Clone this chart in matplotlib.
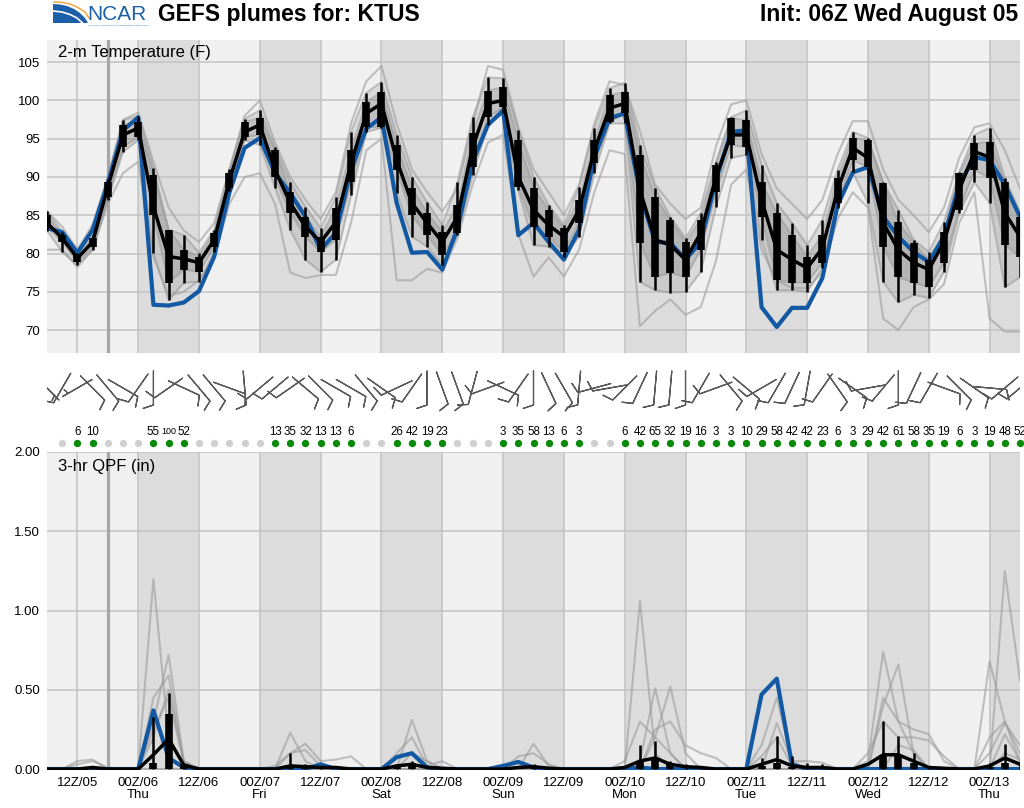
import numpy as np
import matplotlib
matplotlib.use("Agg")
import matplotlib.pyplot as plt
from matplotlib.patches import Polygon

plt.rcParams['font.family'] = ['Liberation Sans', 'DejaVu Sans']

# forecast hours from 06Z Wed Aug 05, every 3 h
hours = np.arange(0, 193, 3)

# ---- 2-m temperature (F) ----
temp_ctrl = [83.3, 82.8, 80.1, 83.1, 89.2, 96.1, 97.8, 73.3, 73.2, 73.6, 75.1, 79.6, 88.0,
             93.8, 95.1, 90.5, 87.9, 84.8, 80.5, 82.7, 90.9, 96.3, 97.8, 86.6, 80.1, 80.2,
             77.9, 83.3, 92.0, 96.8, 98.7, 82.4, 84.0, 81.5, 79.2, 83.1, 92.6, 97.7, 98.3,
             87.9, 81.5, 81.4, 79.2, 81.5, 89.6, 95.9, 96.1, 73.0, 70.4, 72.9, 72.9, 76.8,
             86.3, 90.6, 91.3, 84.8, 82.2, 80.2, 78.9, 82.2, 89.0, 92.6, 92.2, 89.0, 84.8]
temp_mean = [84.0, 82.0, 79.4, 81.5, 88.7, 95.5, 96.4, 86.1, 79.6, 79.3, 78.8, 81.8, 89.6,
             95.9, 96.8, 90.9, 86.6, 83.5, 81.5, 84.1, 91.8, 98.3, 99.6, 92.2, 86.6, 84.0,
             81.5, 84.8, 93.9, 99.6, 100.0, 90.0, 85.7, 83.7, 82.2, 85.7, 93.5, 99.0, 99.6,
             88.3, 81.8, 81.1, 79.2, 82.7, 90.0, 95.5, 95.5, 87.0, 80.5, 79.2, 78.1, 80.7,
             88.3, 93.8, 92.5, 84.0, 80.5, 78.8, 77.9, 81.5, 88.3, 93.3, 92.6, 85.3, 82.2]
temp_box_hi = [85.0, 82.4, 79.8, 82.0, 89.3, 96.8, 97.2, 90.3, 83.1, 80.5, 79.6, 82.7, 90.5,
               97.2, 97.7, 93.5, 88.0, 84.8, 82.2, 86.0, 93.5, 99.8, 101.1, 94.2, 88.6, 85.3,
               82.8, 86.3, 95.7, 101.3, 101.7, 94.8, 88.6, 85.7, 83.3, 87.0, 94.8, 100.7, 101.1,
               92.9, 87.4, 84.4, 81.5, 84.4, 91.6, 97.7, 97.4, 89.3, 85.3, 82.4, 79.6, 82.4,
               89.9, 95.1, 94.8, 89.2, 84.1, 81.4, 79.2, 82.8, 90.5, 94.4, 94.6, 89.3, 84.8]
temp_box_lo = [83.5, 81.5, 78.9, 80.9, 87.4, 93.9, 95.2, 85.0, 76.2, 77.9, 77.6, 80.9, 88.6,
               95.2, 95.5, 90.0, 85.3, 82.2, 80.2, 81.8, 89.3, 96.5, 96.5, 90.9, 85.0, 82.4,
               79.8, 82.7, 91.3, 97.8, 99.1, 88.7, 83.5, 82.2, 80.2, 84.0, 91.8, 97.2, 98.3,
               81.4, 76.9, 77.5, 76.9, 80.5, 88.0, 94.2, 93.9, 84.8, 76.5, 76.2, 76.2, 78.8,
               86.6, 92.2, 91.3, 80.9, 76.9, 76.2, 75.6, 78.8, 85.7, 90.9, 89.9, 81.1, 79.6]
temp_wh_hi = [85.5, 82.8, 80.1, 82.4, 89.8, 97.4, 98.0, 91.2, 83.1, 82.4, 80.1, 83.1, 91.0,
              97.6, 98.7, 93.9, 89.3, 86.1, 83.3, 87.4, 95.9, 101.0, 102.4, 95.5, 90.0, 86.7,
              83.7, 89.3, 97.8, 103.0, 102.9, 96.1, 90.0, 86.3, 83.7, 88.7, 96.4, 101.6, 102.3,
              94.2, 88.6, 84.8, 82.0, 85.3, 92.0, 97.8, 98.7, 91.6, 86.6, 84.0, 81.1, 84.4,
              90.9, 95.9, 95.1, 89.3, 85.7, 81.8, 80.2, 84.1, 90.6, 95.5, 96.4, 89.9, 85.4]
temp_wh_lo = [83.0, 80.2, 78.5, 80.5, 87.0, 93.3, 94.8, 80.1, 73.9, 76.2, 76.3, 80.2, 88.2,
              94.8, 94.2, 88.6, 83.1, 79.2, 77.6, 79.2, 87.6, 95.9, 96.4, 87.9, 82.2, 80.9,
              78.5, 82.4, 90.3, 96.8, 98.3, 88.3, 81.1, 80.9, 79.6, 82.2, 90.5, 97.0, 97.0,
              76.3, 75.2, 74.9, 75.0, 77.6, 86.1, 92.5, 92.9, 81.8, 75.2, 75.2, 75.0, 78.1,
              86.0, 90.6, 86.6, 76.3, 73.6, 74.6, 74.2, 77.6, 85.3, 89.3, 86.6, 75.6, 76.9]
temp_mem_max = [85.5, 83.5, 80.5, 83.8, 90.0, 97.5, 98.4, 92.0, 86.0, 83.0, 81.5, 84.0, 91.0,
                98.0, 100.0, 94.5, 90.0, 87.0, 84.5, 88.0, 97.0, 102.5, 104.5, 97.0, 91.0, 88.0,
                85.5, 88.5, 97.0, 104.5, 104.0, 96.5, 91.0, 88.0, 85.0, 89.0, 97.0, 102.5, 102.0,
                96.0, 89.0, 86.5, 84.5, 86.0, 94.0, 99.5, 100.0, 93.0, 88.5, 86.5, 84.5, 87.0,
                93.0, 97.3, 97.3, 91.0, 87.0, 85.0, 82.8, 86.0, 92.5, 96.5, 97.0, 93.5, 88.5]
temp_mem_min = [80.5, 80.5, 78.2, 80.5, 86.5, 90.5, 92.0, 79.5, 74.5, 75.0, 76.5, 79.5, 86.5,
                90.0, 90.5, 86.5, 77.5, 76.8, 77.2, 77.2, 84.0, 93.5, 95.0, 76.5, 76.5, 78.0,
                77.5, 82.0, 89.0, 94.5, 95.5, 82.5, 77.0, 79.5, 77.0, 80.5, 88.0, 93.5, 93.0,
                70.5, 72.5, 74.0, 72.0, 73.0, 79.0, 89.0, 91.0, 80.5, 76.5, 75.5, 75.5, 77.5,
                84.5, 88.0, 86.0, 71.5, 70.0, 73.0, 74.0, 76.0, 84.0, 88.0, 71.5, 69.8, 69.8]

# ---- winds (direction from, deg; speed, kt) ----
wind_dir = [135, 210, 240, 135, 140, 120, 215, 180, 235, 115, 140, 140, 110,
            175, 230, 230, 235, 130, 135, 120, 120, 140, 125, 245, 215, 180,
            160, 160, 195, 250, 115, 215, 180, 155, 150, 185, 255, 260, 225,
            205, 185, 185, 180, 210, 250, 140, 130, 240, 210, 205, 190, 215,
            145, 125, 260, 220, 180, 205, 210, 110, 135, 125, 95, 230, 230]
wind_spd = [5, 8, 5, 10, 10, 12, 10, 8, 10, 12, 10, 10, 12,
            8, 10, 10, 8, 10, 10, 12, 10, 10, 12, 12, 10, 8,
            8, 8, 8, 12, 12, 10, 8, 8, 8, 8, 12, 12, 10,
            10, 8, 8, 8, 10, 12, 10, 12, 12, 10, 10, 8, 10,
            10, 12, 12, 10, 8, 10, 10, 12, 12, 12, 12, 10, 10]

# ---- probability of measurable precip (%) ----
pop = [None, 0, 6, 10, 0, 0, 0, 55, 100, 52, 0, 0, 0,
       0, 0, 13, 35, 32, 13, 13, 6, 0, 0, 26, 42, 19,
       23, 0, 0, 0, 3, 35, 58, 13, 6, 3, 0, 0, 6,
       42, 65, 32, 19, 16, 3, 3, 10, 29, 58, 42, 42, 23,
       6, 3, 29, 42, 61, 58, 35, 19, 6, 3, 19, 48, 52]

# ---- 3-hr QPF (in) ----
qpf_ctrl = [0, 0, 0, 0, 0, 0, 0, 0.37, 0.07, 0.01, 0, 0, 0,
            0, 0, 0, 0, 0, 0.03, 0, 0, 0, 0, 0.075, 0.10, 0.01,
            0, 0, 0, 0, 0.02, 0.045, 0.01, 0, 0, 0, 0, 0, 0,
            0.01, 0, 0, 0, 0, 0, 0, 0, 0.47, 0.57, 0.03, 0, 0,
            0, 0, 0, 0, 0, 0, 0, 0, 0, 0, 0, 0, 0]
qpf_mean = [0, 0, 0, 0.01, 0, 0, 0, 0.09, 0.19, 0.025, 0, 0, 0,
            0, 0, 0, 0.02, 0.015, 0.01, 0.01, 0, 0, 0, 0.02, 0.03, 0.01,
            0.005, 0, 0, 0, 0, 0.01, 0.015, 0.005, 0, 0, 0, 0, 0.01,
            0.05, 0.07, 0.03, 0.015, 0.01, 0, 0, 0, 0.03, 0.06, 0.02, 0.01, 0.01,
            0, 0, 0.03, 0.09, 0.09, 0.05, 0.01, 0.005, 0, 0, 0.02, 0.07, 0.03]
qpf_box_hi = [0, 0, 0, 0.01, 0, 0, 0, 0.04, 0.35, 0.03, 0, 0, 0,
              0, 0, 0, 0.02, 0.02, 0, 0, 0, 0, 0, 0.02, 0.04, 0,
              0, 0, 0, 0, 0, 0, 0.02, 0, 0, 0, 0, 0, 0,
              0.05, 0.06, 0.03, 0, 0, 0, 0, 0, 0.02, 0.04, 0.01, 0, 0,
              0, 0, 0, 0.08, 0.08, 0.04, 0, 0, 0, 0, 0.01, 0.04, 0]
qpf_wh_hi = [0, 0, 0, 0.01, 0, 0, 0, 0.33, 0.48, 0.03, 0, 0, 0,
             0, 0, 0, 0.10, 0.03, 0.02, 0, 0, 0, 0, 0.03, 0.05, 0,
             0, 0, 0, 0, 0, 0, 0.03, 0, 0, 0, 0, 0, 0,
             0.15, 0.18, 0.05, 0.03, 0.02, 0, 0, 0, 0.07, 0.21, 0.08, 0.04, 0.03,
             0, 0, 0, 0.30, 0.21, 0.10, 0.02, 0, 0, 0, 0.04, 0.16, 0.03]
qpf_members = [
    [0, 0, 0, 0, 0, 0, 0, 1.20, 0.20, 0.02, 0, 0, 0,
     0, 0, 0, 0, 0, 0, 0, 0, 0, 0, 0, 0, 0,
     0, 0, 0, 0, 0, 0, 0, 0, 0, 0, 0, 0, 0,
     1.06, 0.10, 0, 0, 0, 0, 0, 0, 0, 0, 0, 0, 0,
     0, 0, 0, 0, 0, 0, 0, 0, 0, 0, 0, 1.25, 0.56],
    [0, 0, 0, 0, 0, 0, 0, 0.30, 0.72, 0.05, 0, 0, 0,
     0, 0, 0, 0, 0, 0, 0, 0, 0, 0, 0, 0, 0,
     0, 0, 0, 0, 0, 0, 0, 0, 0, 0, 0, 0, 0,
     0.05, 0.51, 0.10, 0, 0, 0, 0, 0, 0, 0, 0, 0, 0,
     0, 0, 0.05, 0.74, 0.30, 0.10, 0, 0, 0, 0, 0.68, 0.30, 0.05],
    [0, 0, 0, 0, 0, 0, 0, 0.45, 0.59, 0.03, 0, 0, 0,
     0, 0, 0, 0, 0, 0, 0, 0, 0, 0, 0, 0, 0,
     0, 0, 0, 0, 0, 0, 0, 0, 0, 0, 0, 0, 0,
     0, 0.20, 0.52, 0.10, 0, 0, 0, 0, 0, 0, 0, 0, 0,
     0, 0, 0, 0.40, 0.66, 0.10, 0, 0, 0, 0, 0.10, 0.29, 0.15],
    [0, 0, 0, 0, 0, 0, 0, 0.25, 0.45, 0.04, 0, 0, 0,
     0, 0, 0, 0.23, 0.05, 0, 0, 0, 0, 0, 0, 0.31, 0.05,
     0, 0, 0, 0, 0, 0, 0.16, 0.02, 0, 0, 0, 0, 0,
     0, 0, 0, 0, 0, 0, 0, 0, 0.15, 0.45, 0.05, 0, 0,
     0, 0, 0, 0.45, 0.30, 0.25, 0.22, 0.05, 0, 0, 0, 0.22, 0.05],
    [0, 0, 0.05, 0.06, 0, 0, 0, 0, 0, 0, 0, 0, 0,
     0, 0, 0, 0.10, 0.16, 0.05, 0.06, 0.08, 0, 0, 0.10, 0.20, 0.02,
     0.05, 0, 0, 0, 0, 0.08, 0.10, 0.03, 0, 0, 0, 0, 0,
     0, 0.25, 0.30, 0.15, 0.10, 0.07, 0, 0, 0, 0.29, 0.05, 0.05, 0.04,
     0, 0, 0.10, 0.30, 0.20, 0.20, 0.18, 0.08, 0, 0, 0.20, 0.30, 0.10],
    [0, 0, 0.03, 0.05, 0.01, 0, 0, 0.20, 0.50, 0.05, 0, 0, 0,
     0, 0, 0.02, 0.10, 0.12, 0.02, 0, 0, 0, 0, 0, 0.10, 0.05,
     0, 0, 0, 0, 0, 0, 0, 0, 0, 0, 0, 0, 0.05,
     0.30, 0.20, 0.10, 0, 0, 0, 0, 0, 0.08, 0.20, 0.02, 0, 0,
     0, 0, 0, 0, 0.15, 0.12, 0, 0, 0, 0, 0, 0.10, 0.06],
]

tick_hours = np.arange(6, 192, 12)
tick_labels = ["12Z/05", "00Z/06\nThu", "12Z/06", "00Z/07\nFri", "12Z/07", "00Z/08\nSat",
               "12Z/08", "00Z/09\nSun", "12Z/09", "00Z/10\nMon", "12Z/10", "00Z/11\nTue",
               "12Z/11", "00Z/12\nWed", "12Z/12", "00Z/13\nThu"]
night_starts = np.arange(18, 192, 24)   # 00Z each day

BLUE = '#1258a3'
GRID = '#c2c2c2'
MEMBER = '#9c9c9c'

W, H = 1024, 808
fig = plt.figure(figsize=(W / 100, H / 100), dpi=100)
fig.patch.set_facecolor('white')


def rect(x0, y0, x1, y1):
    return [x0 / W, 1 - y1 / H, (x1 - x0) / W, (y1 - y0) / H]


def base_axes(ax):
    ax.set_facecolor('#f0f0f0')
    for s in ax.spines.values():
        s.set_visible(False)
    ax.set_xlim(0, 192)
    ax.set_xticks(tick_hours)
    ax.set_axisbelow(True)
    ax.grid(True, color=GRID, lw=1.1)
    for h in night_starts:
        ax.axvspan(h, min(h + 12, 192), color='#dcdcdc', lw=0, zorder=0.2)
    ax.axvline(12, color='#a6a6a6', lw=2.3, zorder=0.6)
    ax.tick_params(length=0, labelsize=9.5, pad=5)


# ---- temperature panel ----
ax_t = fig.add_axes(rect(47, 40, 1020, 353))
base_axes(ax_t)
ax_t.set_ylim(67.0, 107.9)
ax_t.set_yticks(np.arange(70, 106, 5))
ax_t.tick_params(labelbottom=False)
ax_t.fill_between(hours, temp_wh_lo, temp_wh_hi, color='#8e8e8e', alpha=0.22, lw=0, zorder=1)
ax_t.fill_between(hours, temp_box_lo, temp_box_hi, color='#7a7a7a', alpha=0.25, lw=0, zorder=1)
for series in (temp_mem_max, temp_mem_min, temp_wh_hi, temp_wh_lo, temp_box_hi, temp_box_lo):
    ax_t.plot(hours, series, color=MEMBER, lw=1.5, alpha=0.6, zorder=2)
ax_t.plot(hours, temp_ctrl, color=BLUE, lw=3, zorder=3)
ax_t.plot(hours, temp_mean, color='black', lw=2.5, zorder=4)
ax_t.vlines(hours, temp_wh_lo, temp_wh_hi, color='black', lw=1.8, zorder=5)
ax_t.vlines(hours, temp_box_lo, temp_box_hi, color='black', lw=5.5, zorder=5)
ax_t.text(11 / 973, 1 - 12 / 313, "2-m Temperature (F)", transform=ax_t.transAxes,
          fontsize=12, va='center', ha='left', zorder=6)

# ---- wind barbs ----
ax_w = fig.add_axes(rect(47, 358, 1020, 418))
ax_w.set_xlim(0, 192)
ax_w.set_ylim(418, 358)
ax_w.axis('off')
wd = np.radians(wind_dir)
ws = np.array(wind_spd, dtype=float)
u = -ws * np.sin(wd)
v = -ws * np.cos(wd)
ax_w.barbs(hours, np.full(len(hours), 388.0), u, v, length=7, pivot='middle',
           sizes=dict(height=0.3, width=0.2), color='#5a5a5a', linewidth=0.9)

# ---- precip probability dots ----
ax_p = fig.add_axes(rect(47, 418, 1020, 450))
ax_p.set_xlim(0, 192)
ax_p.set_ylim(450, 418)
ax_p.axis('off')
for h, p in zip(hours, pop):
    if p is None:
        continue
    if p > 0:
        ax_p.scatter(h, 443, s=28, color='#0a8a0a', lw=0, clip_on=False)
        ax_p.text(h, 432, str(p), ha='center', va='center',
                  fontsize=6.5 if p >= 100 else 8.3)
    else:
        ax_p.scatter(h, 443, s=28, color='#d0d0d0', lw=0, clip_on=False)

# ---- QPF panel ----
ax_q = fig.add_axes(rect(47, 452, 1020, 770))
base_axes(ax_q)
ax_q.set_ylim(-0.006, 2.0)
ax_q.set_yticks([0, 0.5, 1.0, 1.5, 2.0])
ax_q.set_yticklabels(["0.00", "0.50", "1.00", "1.50", "2.00"])
ax_q.set_xticklabels(tick_labels, linespacing=1.0)
for m in qpf_members:
    ax_q.plot(hours, m, color=MEMBER, lw=1.5, alpha=0.6, zorder=2)
ax_q.plot(hours, qpf_ctrl, color=BLUE, lw=3, zorder=3)
ax_q.plot(hours, qpf_mean, color='black', lw=2.5, zorder=4)
ax_q.vlines(hours, 0, qpf_wh_hi, color='black', lw=1.8, zorder=5)
ax_q.vlines(hours, 0, qpf_box_hi, color='black', lw=5.5, zorder=5)
ax_q.text(11 / 973, 1 - 15 / 318, "3-hr QPF (in)", transform=ax_q.transAxes,
          fontsize=12, va='center', ha='left', zorder=6)

# ---- header ----
ax_l = fig.add_axes(rect(52, 0, 150, 30))
ax_l.set_xlim(52, 150)
ax_l.set_ylim(30, 0)
ax_l.axis('off')
ax_l.add_patch(Polygon([(53, 4), (60, 4.5), (67, 6), (74, 9), (80, 13), (85, 18),
                        (88, 23), (53, 23)], closed=True, color='#1a5fa8', lw=0))
ax_l.plot([53, 62, 70, 77, 82.5], [11, 12, 14.5, 18, 23], color='white', lw=1.2)
ax_l.plot([54, 62, 70, 78, 85, 89.5], [2, 2.3, 4, 7.5, 12, 18.5], color='#f0a030', lw=1)
ax_l.text(87.5, 15, "NCAR", fontsize=15, color='#1a5fa8', va='center', ha='left')
ax_l.text(88.5, 25.5, "NATIONAL CENTER FOR ATMOSPHERIC RESEARCH", fontsize=1.7,
          color='#1a5fa8', va='center', ha='left')

fig.text(158 / W, 1 - 15 / H, "GEFS plumes for: KTUS", fontsize=16.5, fontweight='bold',
         ha='left', va='center')
fig.text(1018 / W, 1 - 15 / H, "Init: 06Z Wed August 05", fontsize=16.5, fontweight='bold',
         ha='right', va='center')

fig.savefig("out.png", dpi=100)
